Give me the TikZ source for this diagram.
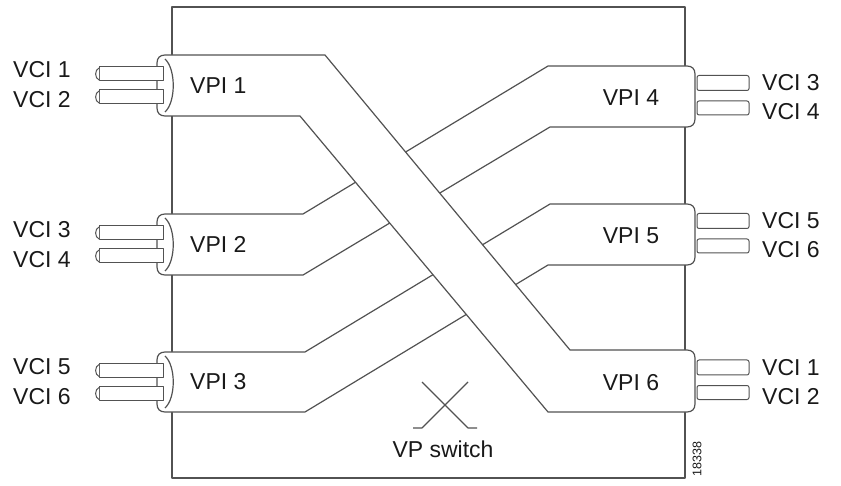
\documentclass[tikz,border=0pt]{standalone}
\usepackage{fontspec}
\setmainfont{Liberation Sans}
\begin{document}
\begin{tikzpicture}[x=1pt,y=-1pt,
  ln/.style={draw=black!68,line width=1.2pt,line join=round},
  band/.style={ln,fill=white},
  tube/.style={draw=black!68,line width=1pt,fill=white,line join=round},
  lbl/.style={font=\fontsize{23}{25}\selectfont,inner sep=0pt,text=black!90},
  small/.style={font=\fontsize{12.5}{13}\selectfont,inner sep=0pt,text=black!90}]
\useasboundingbox (0,0) rectangle (841,486);
% switch frame
\draw[ln] (172,7) rectangle (685,478);

% band VPI 2 -> VPI 4
\draw[band] (165,214) -- (303,214) -- (548,66) -- (687,66)
  .. controls (692,66) and (695,69) .. (695,74) -- (695,119)
  .. controls (695,124) and (692,127) .. (687,127) -- (550,127) -- (303,275) -- (165,275)
  .. controls (160,275) and (157,272) .. (157,267) -- (157,222)
  .. controls (157,217) and (160,214) .. (165,214) -- cycle;
% band VPI 3 -> VPI 5
\draw[band] (165,352) -- (305,352) -- (550,204) -- (687,204)
  .. controls (692,204) and (695,207) .. (695,212) -- (695,257)
  .. controls (695,262) and (692,265) .. (687,265) -- (548,265) -- (305,412) -- (165,412)
  .. controls (160,412) and (157,409) .. (157,404) -- (157,360)
  .. controls (157,355) and (160,352) .. (165,352) -- cycle;
% band VPI 1 -> VPI 6 (on top)
\draw[band] (165,55) -- (325,55) -- (570,350) -- (687,350)
  .. controls (692,350) and (695,353) .. (695,358) -- (695,404)
  .. controls (695,409) and (692,412) .. (687,412) -- (548,412) -- (300,116) -- (165,116)
  .. controls (160,116) and (157,113) .. (157,108) -- (157,63)
  .. controls (157,58) and (160,55) .. (165,55) -- cycle;

% cylinder end faces on the left
\foreach \t/\b in {55/116,214/275,352/412}{
  \draw[ln] (165,\t+4) .. controls (176,\t+14) and (176,\b-14) .. (165,\b-4);
}

% left VCI tubes
\foreach \c in {85.5,244.5,382}{
  \foreach \o in {-18.5,4.5}{
    \draw[tube] (99,\c+\o) rectangle (163,\c+\o+14);
    \draw[tube] (99,\c+\o+1) .. controls (94.5,\c+\o+3) and (94.5,\c+\o+11) .. (99,\c+\o+13);
  }
}
% right VCI tubes
\foreach \c in {96.5,234.5,381}{
  \draw[tube,rounded corners=2pt] (697,\c-21) rectangle (749,\c-6);
  \draw[tube,rounded corners=2pt] (697,\c+4.5) rectangle (749,\c+18.5);
}

% left labels
\node[lbl,anchor=west] (lvci1) at (13,70) {VCI 1};
\node[lbl,anchor=west] (lvci2) at (13,100) {VCI 2};
\node[lbl,anchor=west] (lvci3) at (13,229.5) {VCI 3};
\node[lbl,anchor=west] (lvci4) at (13,259.5) {VCI 4};
\node[lbl,anchor=west] (lvci5) at (13,367) {VCI 5};
\node[lbl,anchor=west] (lvci6) at (13,397) {VCI 6};
\node[lbl,anchor=west] (vpi1) at (190,85.5) {VPI 1};
\node[lbl,anchor=west] (vpi2) at (190,244.5) {VPI 2};
\node[lbl,anchor=west] (vpi3) at (190,382) {VPI 3};
% right labels
\node[lbl] (vpi4) at (631,98) {VPI 4};
\node[lbl] (vpi5) at (631,236) {VPI 5};
\node[lbl] (vpi6) at (631,382.5) {VPI 6};
\node[lbl,anchor=west] (rvci3) at (762,83) {VCI 3};
\node[lbl,anchor=west] (rvci4) at (762,112) {VCI 4};
\node[lbl,anchor=west] (rvci5) at (762,221) {VCI 5};
\node[lbl,anchor=west] (rvci6) at (762,250) {VCI 6};
\node[lbl,anchor=west] (rvci1) at (762,367.5) {VCI 1};
\node[lbl,anchor=west] (rvci2) at (762,396.5) {VCI 2};

% VP switch symbol
\draw[ln] (422,382) -- (468,428) -- (477,428);
\draw[ln] (468,382) -- (422,428) -- (413,428);
\node[lbl] (vpsw) at (443,449) {VP switch};
\node[small,rotate=90] (figno) at (697,459) {18338};
\end{tikzpicture}
\end{document}
